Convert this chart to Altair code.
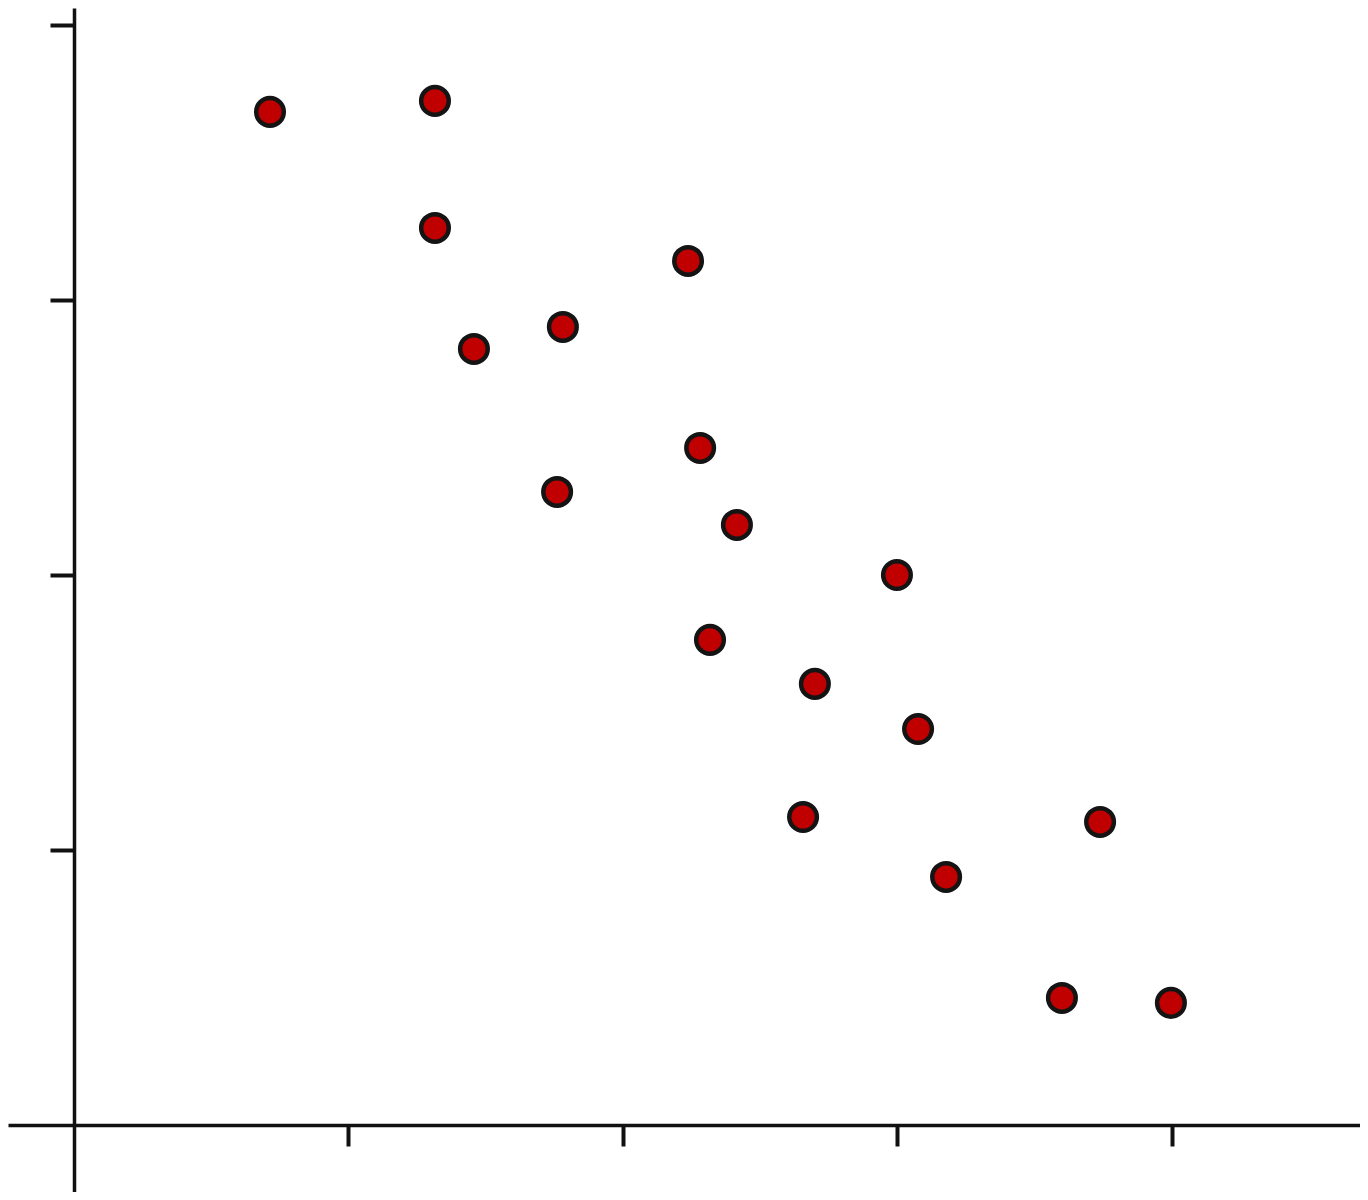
import altair as alt
import pandas as pd

x_vals = [0.714, 1.315, 1.315, 2.237, 1.457, 1.781, 2.281, 1.760, 2.415,
          2.998, 2.317, 2.699, 3.075, 2.656, 3.738, 3.177, 3.599, 3.996]
y_vals = [3.684, 3.724, 3.262, 3.142, 2.822, 2.902, 2.462, 2.302, 2.182,
          2.000, 1.764, 1.604, 1.440, 1.120, 1.102, 0.902, 0.462, 0.444]
tick_values = [1, 2, 3, 4]

df = pd.DataFrame({"x": x_vals, "y": y_vals})

chart = alt.Chart(df).mark_point(
    shape="circle", filled=True, fill="#c00000", stroke="#141414",
    strokeWidth=4.5, size=760, opacity=1
).encode(
    x=alt.X("x:Q", scale=alt.Scale(domain=[-0.2404, 4.6849], nice=False, zero=False),
            axis=alt.Axis(title=None, labels=False, grid=False, values=tick_values,
                          offset=-67, domainColor="#111111", domainWidth=3.5,
                          tickColor="#111111", tickWidth=4, tickSize=21)),
    y=alt.Y("y:Q", scale=alt.Scale(domain=[-0.2436, 4.0618], nice=False, zero=False),
            axis=alt.Axis(title=None, labels=False, grid=False, values=tick_values,
                          offset=-66, domainColor="#111111", domainWidth=3.5,
                          tickColor="#111111", tickWidth=4, tickSize=24)),
).properties(
    width=1352, height=1184, padding=0, autosize="none", background="white"
).configure_view(stroke=None)

chart.save("out.html", embed_options={"renderer": "svg", "actions": False})
